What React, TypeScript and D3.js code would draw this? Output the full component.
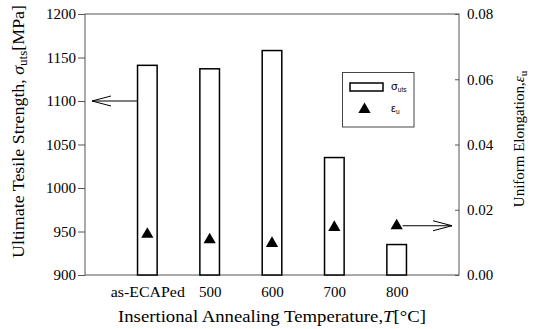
import * as d3 from "d3";
import React, { useEffect, useRef } from "react";

// values
const categories = ["as-ECAPed", "500", "600", "700", "800"];
const utsValues = [1141, 1137, 1158, 1035, 935];
const elongValues = [0.0125, 0.0108, 0.0097, 0.0146, 0.0151];
const leftTicks = [900, 950, 1000, 1050, 1100, 1150, 1200];
const rightTicks = [0, 0.02, 0.04, 0.06, 0.08];

const W = 533;
const H = 329;
const serif = "'Times New Roman', Times, 'Liberation Serif', Tinos, 'DejaVu Serif', serif";
const sans = "Arial, 'Liberation Sans', sans-serif";

const App: React.FC = () => {
  const ref = useRef<SVGSVGElement>(null);

  useEffect(() => {
    const svg = d3.select(ref.current);
    svg.selectAll("*").remove();

    const margin = { top: 14, right: 74, bottom: 54, left: 85 };
    const x0 = margin.left;
    const x1 = W - margin.right;
    const y0 = H - margin.bottom;
    const y1 = margin.top;

    // category slots 1..5 on a 0..6 line
    const x = d3.scaleLinear().domain([0, categories.length + 1]).range([x0, x1]);
    const yL = d3.scaleLinear().domain([900, 1200]).range([y0, y1]);
    const yR = d3.scaleLinear().domain([0, 0.08]).range([y0, y1]);
    const barW = 19.6;

    // frame
    svg.append("rect")
      .attr("x", x0).attr("y", y1)
      .attr("width", x1 - x0).attr("height", y0 - y1)
      .attr("fill", "none").attr("stroke", "#555").attr("stroke-width", 1);

    // left axis
    const gl = svg.append("g").attr("transform", `translate(${x0},0)`)
      .call(d3.axisLeft(yL).tickValues(leftTicks).tickSize(7).tickPadding(2).tickFormat(d3.format("d")));
    gl.select(".domain").remove();
    gl.attr("font-family", null).attr("font-size", null);
    gl.selectAll("line").attr("stroke", "#555");
    gl.selectAll("text").style("font-family", serif).style("font-size", "15px").attr("fill", "#000");

    // right axis (ticks inside)
    const gr = svg.append("g").attr("transform", `translate(${x1},0)`)
      .call(d3.axisRight(yR).tickValues(rightTicks).tickSizeInner(-4).tickSizeOuter(0).tickPadding(8).tickFormat(d3.format(".2f")));
    gr.select(".domain").remove();
    gr.attr("font-family", null).attr("font-size", null);
    gr.selectAll("line").attr("stroke", "#555");
    gr.selectAll("text").style("font-family", serif).style("font-size", "15px").attr("fill", "#000");

    // bottom axis (ticks inside)
    const gb = svg.append("g").attr("transform", `translate(0,${y0})`)
      .call(d3.axisBottom(x).tickValues(categories.map((_, i) => i + 1))
        .tickSizeInner(-3).tickSizeOuter(0).tickPadding(11)
        .tickFormat((d) => categories[(d as number) - 1]));
    gb.select(".domain").remove();
    gb.attr("font-family", null).attr("font-size", null);
    gb.selectAll("line").attr("stroke", "#333");
    gb.selectAll("text").style("font-family", serif).style("font-size", "15px").attr("fill", "#000");
    gb.selectAll("text").filter((_, i) => i === 0)
      .attr("textLength", 74).attr("lengthAdjust", "spacingAndGlyphs");

    // bars
    svg.append("g").selectAll("rect").data(utsValues).join("rect")
      .attr("x", (_, i) => x(i + 1) - barW / 2)
      .attr("y", (d) => yL(d))
      .attr("width", barW)
      .attr("height", (d) => y0 - yL(d))
      .attr("fill", "#fff").attr("stroke", "#000").attr("stroke-width", 1.5);

    // triangles
    const tri = d3.symbol(d3.symbolTriangle, 65);
    svg.append("g").selectAll("path").data(elongValues).join("path")
      .attr("transform", (d, i) => `translate(${x(i + 1)},${yR(d)})`)
      .attr("d", tri()!)
      .attr("fill", "#000");

    // arrows
    const arrow = (xa: number, xb: number, y: number, dir: number) => {
      // xb is the tip
      svg.append("line").attr("x1", xa).attr("x2", xb).attr("y1", y).attr("y2", y)
        .attr("stroke", "#000").attr("stroke-width", 1);
      const back = xb - dir * 19;
      svg.append("path")
        .attr("d", `M${back},${y - 5}L${xb},${y}L${back},${y + 5}`)
        .attr("fill", "none").attr("stroke", "#000").attr("stroke-width", 1);
    };
    arrow(x(1) - barW / 2, x0 + 7, yL(1100), -1);
    arrow(x(5) + 6, x1 - 7, yR(elongValues[4]), 1);

    // legend
    const lg = svg.append("g");
    lg.append("rect").attr("x", 342.5).attr("y", 72.5).attr("width", 71.5).attr("height", 54.5)
      .attr("fill", "#fff").attr("stroke", "#444").attr("stroke-width", 1);
    lg.append("rect").attr("x", 350).attr("y", 83).attr("width", 33).attr("height", 8)
      .attr("fill", "#fff").attr("stroke", "#000").attr("stroke-width", 1.5);
    lg.append("path").attr("transform", "translate(364.5,109.5)").attr("d", tri()!).attr("fill", "#000");
    const t1 = lg.append("text").attr("x", 391).attr("y", 90).style("font-family", sans).style("font-size", "11px");
    t1.append("tspan").text("σ");
    t1.append("tspan").style("font-size", "6.5px").attr("dy", 2).text("uts");
    const t2 = lg.append("text").attr("x", 391).attr("y", 112).style("font-family", sans).style("font-size", "11px");
    t2.append("tspan").text("ε");
    t2.append("tspan").style("font-size", "6.5px").attr("dy", 2).text("u");

    // axis titles
    const xt = svg.append("text").attr("x", (x0 + x1) / 2).attr("y", 322)
      .attr("text-anchor", "middle").style("font-family", serif).style("font-size", "17px")
      .attr("textLength", 308).attr("lengthAdjust", "spacingAndGlyphs");
    xt.append("tspan").text("Insertional Annealing Temperature,");
    xt.append("tspan").style("font-style", "italic").text("T");
    xt.append("tspan").text("[°C]");

    const ylt = svg.append("text").attr("transform", `translate(24,131.5) rotate(-90)`)
      .attr("text-anchor", "middle").style("font-family", serif).style("font-size", "16.5px")
      .attr("textLength", 253).attr("lengthAdjust", "spacingAndGlyphs");
    ylt.append("tspan").text("Ultimate Tesile Strength, ");
    ylt.append("tspan").style("font-style", "italic").text("σ");
    ylt.append("tspan").style("font-size", "12px").attr("dy", 3).text("uts");
    ylt.append("tspan").attr("dy", -3).text("[MPa]");

    const yrt = svg.append("text").attr("transform", `translate(524,139) rotate(-90)`)
      .attr("text-anchor", "middle").style("font-family", serif).style("font-size", "15px");
    yrt.append("tspan").text("Uniform Elongation,");
    yrt.append("tspan").style("font-style", "italic").text("ε");
    yrt.append("tspan").style("font-size", "11px").attr("dy", 3).text("u");
  }, []);

  return (
    <svg
      ref={ref}
      width={W}
      height={H}
      style={{ position: "absolute", left: 0, top: 0, background: "#fff" }}
    />
  );
};

export default App;
